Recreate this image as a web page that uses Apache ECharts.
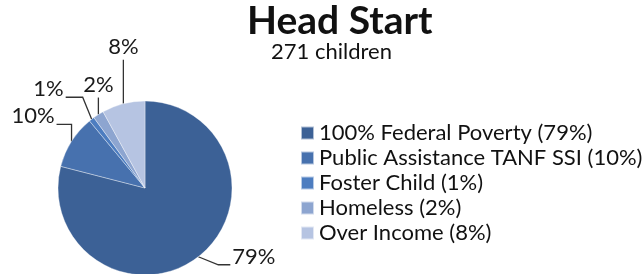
<!DOCTYPE html>
<html>
<head>
<meta charset="utf-8">
<script src="https://cdn.jsdelivr.net/npm/echarts@6/dist/echarts.min.js"></script>
<style>html,body{margin:0;padding:0;background:#fff;}#c{width:644px;height:274px;}</style>
</head>
<body>
<div id="c"></div>
<script>
const titleText = 'Head Start';
const subtitleText = '271 children';
const categories = ['100% Federal Poverty', 'Public Assistance TANF SSI', 'Foster Child', 'Homeless', 'Over Income'];
const values = [79, 10, 1, 2, 8];
const colors = ['#3C6196', '#4771AE', '#4D7DC0', '#8DA5D0', '#B6C4E2'];

// label leader geometry (offsets from slice edge point), styling only
const leader = [
  {b: [20, 8], e: [12, 0], align: 'left', dx: 2, dy: 3},
  {b: [0, -17], e: [-15, 0], align: 'right', dx: -2, dy: 3},
  {b: [-9, -22], e: [-17, 0], align: 'right', dx: -2, dy: 3},
  {b: [0, -17], e: [0, 0], align: 'center', dx: 0, dy: -2},
  {b: [0, -44], e: [0, 0], align: 'center', dx: 0, dy: -2}
];

const legendNames = categories.map((c, i) => c + ' (' + values[i] + '%)');
const chart = echarts.init(document.getElementById('c'));
const font = 'Lato, "Liberation Sans", sans-serif';
chart.setOption({
  animation: false,
  title: [
    {text: titleText, left: 247, top: 2, padding: 0,
     textStyle: {fontSize: 39, fontWeight: 'bold', fontFamily: font, color: '#111'}},
    {text: subtitleText, left: 271, top: 41, padding: 0,
     textStyle: {fontSize: 22, fontWeight: 'normal', fontFamily: font, color: '#111'}}
  ],
  legend: {
    orient: 'vertical', left: 300, top: 122, padding: 0,
    itemWidth: 13, itemHeight: 13, itemGap: 3, icon: 'rect',
    selectedMode: false,
    textStyle: {fontSize: 22, lineHeight: 22, fontFamily: font, color: '#111', padding: [0, 0, 0, 0]},
    data: legendNames
  },
  series: [{
    type: 'pie',
    center: [145, 188],
    radius: 87,
    startAngle: 90,
    clockwise: true,
    avoidLabelOverlap: false,
    itemStyle: {borderColor: 'rgba(255,255,255,0.6)', borderWidth: 0.6},
    label: {show: true, formatter: '{c}%', fontSize: 22, fontFamily: font, color: '#1a1a1a'},
    labelLine: {show: true, length: 10, length2: 10, lineStyle: {color: '#333', width: 1.3}},
    labelLayout: function (p) {
      const g = leader[p.dataIndex];
      const pts = p.labelLinePoints;
      if (!g || !pts) return {};
      const e = pts[0];
      const b = [e[0] + g.b[0], e[1] + g.b[1]];
      const t = [b[0] + g.e[0], b[1] + g.e[1]];
      return {
        x: t[0] + g.dx, y: t[1] + g.dy,
        align: g.align, verticalAlign: 'bottom',
        labelLinePoints: [e, b, t]
      };
    },
    data: legendNames.map((n, i) => ({name: n, value: values[i], itemStyle: {color: colors[i]}}))
  }]
});
</script>
</body>
</html>
